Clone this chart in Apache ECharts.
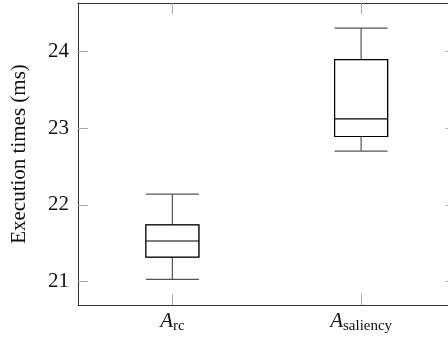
<!DOCTYPE html>
<html>
<head>
<meta charset="utf-8">
<script src="https://cdn.jsdelivr.net/npm/echarts@6/dist/echarts.min.js"></script>
<style>html,body{margin:0;padding:0;background:#fff}#c{width:448px;height:341px}</style>
</head>
<body>
<div id="c"></div>
<script>
var categories = ['rc', 'saliency'];
var whiskerLow = [21.03, 22.70];
var q1 = [21.32, 22.89];
var median = [21.53, 23.12];
var q3 = [21.74, 23.89];
var whiskerHigh = [22.14, 24.30];
var yTicks = [21, 22, 23, 24];
var yLabel = 'Execution times (ms)';

var full = categories.map(function (c, i) { return [whiskerLow[i], q1[i], median[i], q3[i], whiskerHigh[i]]; });
var boxOnly = categories.map(function (c, i) { return [q1[i], q1[i], median[i], q3[i], q3[i]]; });

var font = 'Liberation Serif';
var tickGray = '#aaaaaa';
var lineCol = '#333333';

var chart = echarts.init(document.getElementById('c'), null, {renderer: 'canvas'});
var xBase = {
  type: 'category',
  data: categories,
  boundaryGap: true,
  axisLine: {show: true, lineStyle: {color: lineCol, width: 1}},
  axisTick: {show: true, inside: true, length: 11, alignWithLabel: true, lineStyle: {color: tickGray, width: 1}},
  splitLine: {show: false}
};
var yBase = {
  type: 'value',
  min: 20.697,
  max: 24.628,
  scale: true,
  axisLine: {show: true, lineStyle: {color: lineCol, width: 1}},
  axisTick: {show: true, inside: true, length: 10, customValues: yTicks, lineStyle: {color: tickGray, width: 1}},
  splitLine: {show: false}
};
chart.setOption({
  animation: false,
  backgroundColor: '#fff',
  grid: {left: 78, width: 377.5, top: 3, bottom: 36, containLabel: false, outerBoundsMode: 'none'},
  xAxis: [
    Object.assign({}, xBase, {
      position: 'bottom',
      axisLabel: {
        show: true, margin: 6,
        formatter: function (v) { return '{a|A}{s|' + v + '}'; },
        rich: {
          a: {fontFamily: font, fontStyle: 'italic', fontSize: 21, lineHeight: 21, color: '#111', verticalAlign: 'top'},
          s: {fontFamily: font, fontSize: 15, lineHeight: 15, color: '#111', verticalAlign: 'top', padding: [8, 0, 0, 0]}
        }
      }
    }),
    Object.assign({}, xBase, {position: 'top', axisLabel: {show: false}})
  ],
  yAxis: [
    Object.assign({}, yBase, {
      position: 'left',
      name: yLabel,
      nameLocation: 'middle',
      nameGap: 48,
      nameTextStyle: {fontFamily: font, fontSize: 21, color: '#111'},
      axisLabel: {show: true, customValues: yTicks, margin: 9, fontFamily: font, fontSize: 21, color: '#111'}
    }),
    Object.assign({}, yBase, {position: 'right', axisLabel: {show: false}})
  ],
  series: [
    {
      type: 'boxplot',
      xAxisIndex: 0, yAxisIndex: 0,
      data: full,
      boxWidth: [53, 53],
      itemStyle: {color: '#fff', borderColor: '#555', borderWidth: 1.2},
      emphasis: {disabled: true},
      silent: true
    },
    {
      type: 'boxplot',
      xAxisIndex: 1, yAxisIndex: 0,
      data: boxOnly,
      boxWidth: [53, 53],
      itemStyle: {color: '#fff', borderColor: '#000', borderWidth: 1.2},
      emphasis: {disabled: true},
      silent: true
    }
  ]
});
</script>
</body>
</html>
